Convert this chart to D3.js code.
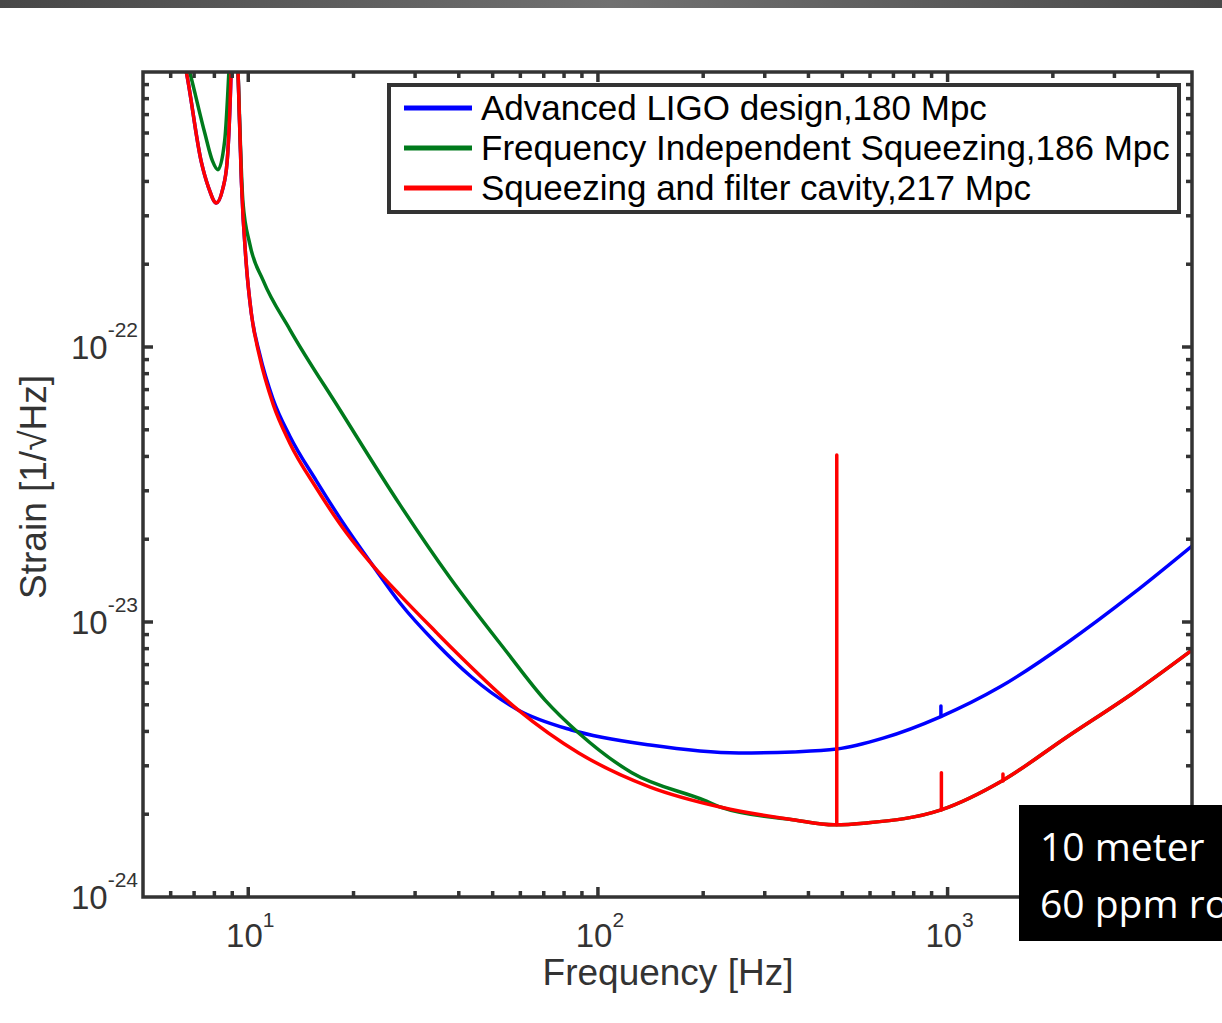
<!DOCTYPE html>
<html>
<head>
<meta charset="utf-8">
<script src="https://cdn.jsdelivr.net/npm/d3@7"></script>
<style>
  html, body { margin: 0; padding: 0; background: #fff; overflow: hidden; }
  svg { display: block; }
</style>
</head>
<body>
<div id="chart"></div>
<script>
// Datos: [frecuencia Hz, strain 1/sqrt(Hz)]
const ligoDesign = [
  [6.5, 1.15e-21], [6.65, 1.0e-21], [7.34, 4.71e-22], [7.7, 3.8e-22], [8.1, 3.34e-22],
  [8.45, 3.75e-22], [8.7, 4.71e-22], [8.93, 1.0e-21], [9.1, 3.0e-21], [9.35, 1.0e-21],
  [9.56, 3.98e-22], [9.87, 2.0e-22], [10.2, 1.33e-22], [10.78, 9.44e-23], [11.77, 6.47e-23],
  [13.14, 4.75e-23], [15.66, 3.26e-23], [19.08, 2.2e-23], [22.75, 1.6e-23], [27.2, 1.17e-23],
  [34.4, 8.39e-24], [43.5, 6.31e-24], [59.1, 4.79e-24], [84, 4.05e-24], [141, 3.57e-24],
  [253, 3.34e-24], [361, 3.37e-24], [482, 3.45e-24], [654, 3.78e-24], [953, 4.52e-24],
  [1414, 5.81e-24], [2194, 8.39e-24], [3395, 1.27e-23], [5000, 1.89e-23]
]
// líneas estrechas: [frecuencia, base, pico]
const ligoDesignLines = [[957, 4.53e-24, 4.95e-24]]

const freqIndepSqz = [
  [6.6, 1.15e-21], [6.8, 1.0e-21], [7.51, 6.0e-22], [7.9, 4.75e-22], [8.19, 4.41e-22],
  [8.56, 5.61e-22], [8.8, 1.0e-21], [9.1, 3.0e-21], [9.35, 1.0e-21], [9.66, 3.34e-22],
  [10.1, 2.37e-22], [11.02, 1.75e-22], [13.14, 1.16e-22], [18.3, 5.9e-23], [27.2, 2.66e-23],
  [37.8, 1.445e-23], [54.3, 7.91e-24], [70.6, 5.2e-24], [88.1, 3.95e-24], [125, 2.83e-24],
  [201, 2.25e-24], [225, 2.12e-24], [361, 1.91e-24], [474, 1.83e-24], [587, 1.86e-24],
  [953, 2.07e-24], [1442, 2.66e-24], [2194, 3.82e-24], [3395, 5.52e-24], [5000, 7.9e-24]
]

const sqzFilterCavity = [
  [6.5, 1.15e-21], [6.65, 1.0e-21], [7.34, 4.71e-22], [7.7, 3.8e-22], [8.1, 3.34e-22],
  [8.45, 3.75e-22], [8.7, 4.71e-22], [8.93, 1.0e-21], [9.1, 3.0e-21], [9.35, 1.0e-21],
  [9.56, 3.98e-22], [9.87, 2.0e-22], [10.2, 1.33e-22], [10.78, 9.2e-23], [11.77, 6.21e-23],
  [13.14, 4.48e-23], [15.66, 3.07e-23], [19.08, 2.11e-23], [22.75, 1.6e-23], [27.2, 1.25e-23],
  [34.4, 9.2e-24], [38.7, 7.91e-24], [59.1, 4.79e-24], [88.1, 3.34e-24], [141, 2.51e-24],
  [225, 2.12e-24], [361, 1.91e-24], [474, 1.83e-24], [587, 1.86e-24], [953, 2.07e-24],
  [1442, 2.66e-24], [2194, 3.82e-24], [3395, 5.52e-24], [5000, 7.9e-24]
]
const sqzFilterCavityLines = [
  [482, 1.83e-24, 4.05e-23], [960, 2.07e-24, 2.83e-24], [1440, 2.64e-24, 2.8e-24]
]

const seriesNames = [
  "Advanced LIGO design,180 Mpc",
  "Frequency Independent Squeezing,186 Mpc",
  "Squeezing and filter cavity,217 Mpc"
]
const seriesColors = ["#0000ff", "#007a1c", "#ff0000"]
const seriesData = [ligoDesign, freqIndepSqz, sqzFilterCavity]
const seriesLines = [ligoDesignLines, [], sqzFilterCavityLines]

const xMajor = [10, 100, 1000]
const xMajorExp = ["1", "2", "3"]
const yMajor = [1e-24, 1e-23, 1e-22]
const yMajorExp = ["-24", "-23", "-22"]

const xLabel = "Frequency [Hz]"
const yLabel = "Strain [1/\u221AHz]"
const noteLines = ["10 meter", "60 ppm round trip loss"]

// Dimensiones
const width = 1222, height = 1023
const plot = {left: 143, right: 1192, top: 72, bottom: 897}

const svg = d3.select("#chart")
  .append("svg")
    .attr("width", width)
    .attr("height", height)

// Barra gris superior
const defs = svg.append("defs")
const grad = defs.append("linearGradient").attr("id", "bar")
grad.append("stop").attr("offset", "0%").attr("stop-color", "#474747")
grad.append("stop").attr("offset", "50%").attr("stop-color", "#717171")
grad.append("stop").attr("offset", "100%").attr("stop-color", "#4a4a4a")
svg.append("rect").attr("x", 0).attr("y", 0).attr("width", width).attr("height", 8)
  .attr("fill", "url(#bar)")

defs.append("clipPath").attr("id", "clip")
  .append("rect")
    .attr("x", plot.left).attr("y", plot.top)
    .attr("width", plot.right - plot.left).attr("height", plot.bottom - plot.top)

// Escalas
const x = d3.scaleLog().domain([5, 5000]).range([plot.left, plot.right])
const y = d3.scaleLog().domain([1e-24, 1e-21]).range([plot.bottom, plot.top])

// Curvas
const line = d3.line()
  .x(d => x(d[0]))
  .y(d => y(d[1]))
  .curve(d3.curveMonotoneX)

const curves = svg.append("g").attr("clip-path", "url(#clip)")
seriesData.forEach((data, i) => {
  curves.append("path")
    .datum(data)
    .attr("fill", "none")
    .attr("stroke", seriesColors[i])
    .attr("stroke-width", 3.5)
    .attr("stroke-linejoin", "round")
    .attr("d", line)
  curves.selectAll(null)
    .data(seriesLines[i])
    .join("line")
      .attr("x1", d => x(d[0])).attr("x2", d => x(d[0]))
      .attr("y1", d => y(d[1])).attr("y2", d => y(d[2]))
      .attr("stroke", seriesColors[i])
      .attr("stroke-width", 3.5)
      .attr("stroke-linecap", "round")
})

// Ejes (estilo MATLAB, ticks hacia dentro en los cuatro lados)
const axisColor = "#333"
const ticksG = svg.append("g").attr("stroke", axisColor).attr("stroke-width", 3.5)

const xTicks = x.ticks().filter(t => t > 5 && t < 5000)
xTicks.forEach(t => {
  const len = xMajor.includes(t) ? 10 : 6
  ticksG.append("line").attr("x1", x(t)).attr("x2", x(t))
    .attr("y1", plot.bottom).attr("y2", plot.bottom - len)
  ticksG.append("line").attr("x1", x(t)).attr("x2", x(t))
    .attr("y1", plot.top).attr("y2", plot.top + len)
})
const yTicks = y.ticks().filter(t => t > 1.01e-24 && t < 0.99e-21)
yTicks.forEach(t => {
  const len = yMajor.some(m => Math.abs(m / t - 1) < 1e-6) ? 10 : 6
  ticksG.append("line").attr("x1", plot.left).attr("x2", plot.left + len)
    .attr("y1", y(t)).attr("y2", y(t))
  ticksG.append("line").attr("x1", plot.right).attr("x2", plot.right - len)
    .attr("y1", y(t)).attr("y2", y(t))
})

svg.append("rect")
  .attr("x", plot.left).attr("y", plot.top)
  .attr("width", plot.right - plot.left).attr("height", plot.bottom - plot.top)
  .attr("fill", "none").attr("stroke", axisColor).attr("stroke-width", 3.5)

// Etiquetas de ticks
const font = "'Liberation Sans', Arial, sans-serif"
const xl = svg.append("g").attr("font-family", font).attr("fill", "#333")
xMajor.forEach((t, i) => {
  const txt = xl.append("text").attr("x", x(t) + 2).attr("y", 947)
    .attr("text-anchor", "middle").attr("font-size", 33)
  txt.append("tspan").text("10")
  txt.append("tspan").attr("font-size", 21).attr("dy", -20).text(xMajorExp[i])
})
yMajor.forEach((t, i) => {
  const txt = xl.append("text").attr("x", 138).attr("y", y(t) + 12)
    .attr("text-anchor", "end").attr("font-size", 33)
  txt.append("tspan").text("10")
  txt.append("tspan").attr("font-size", 21).attr("dy", -22).text(yMajorExp[i])
})

// Títulos de ejes
xl.append("text").attr("x", 668).attr("y", 985)
  .attr("text-anchor", "middle").attr("font-size", 37).text(xLabel)
xl.append("text").attr("transform", `translate(46, 487) rotate(-90)`)
  .attr("text-anchor", "middle").attr("font-size", 37).text(yLabel)

// Leyenda
const leg = svg.append("g")
leg.append("rect").attr("x", 389).attr("y", 85).attr("width", 790).attr("height", 127)
  .attr("fill", "#fff").attr("stroke", axisColor).attr("stroke-width", 4)
seriesNames.forEach((name, i) => {
  const yy = 108 + i * 40
  leg.append("line").attr("x1", 404).attr("x2", 472).attr("y1", yy).attr("y2", yy)
    .attr("stroke", seriesColors[i]).attr("stroke-width", 5)
  leg.append("text").attr("x", 481).attr("y", yy + 12)
    .attr("font-family", font).attr("font-size", 35).attr("fill", "#000").text(name)
})

// Recuadro negro con nota (cortado por el borde derecho, como en la imagen)
const note = svg.append("g")
note.append("rect").attr("x", 1019).attr("y", 805).attr("width", 260).attr("height", 136)
  .attr("fill", "#000")
noteLines.forEach((s, i) => {
  note.append("text").attr("x", 1040).attr("y", 861 + i * 57)
    .attr("font-family", "'Open Sans', 'Noto Sans', sans-serif").attr("font-size", 39)
    .attr("fill", "#fff").text(s)
})
</script>
</body>
</html>
